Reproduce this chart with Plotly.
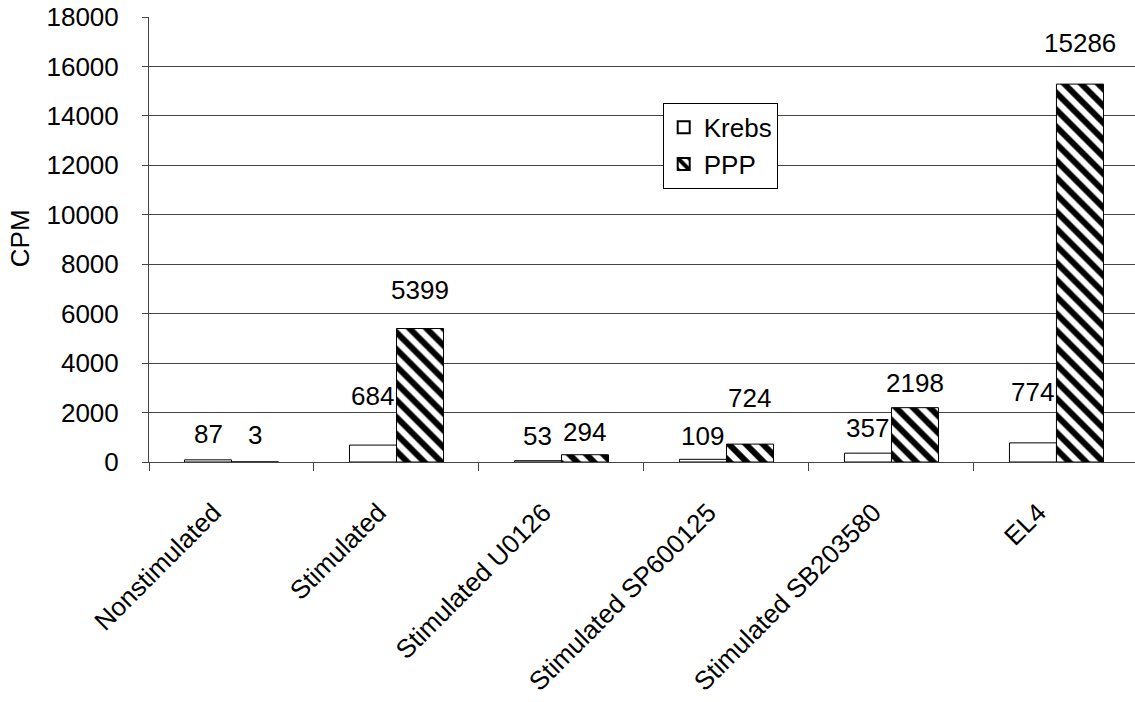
import plotly.graph_objects as go

# Categories and measured CPM values
categories = [
    "Nonstimulated",
    "Stimulated",
    "Stimulated U0126",
    "Stimulated SP600125",
    "Stimulated SB203580",
    "EL4",
]
krebs = [87, 684, 53, 109, 357, 774]
ppp = [3, 5399, 294, 724, 2198, 15286]

# Vertical offset (px) of each value label above its bar
krebs_label_lift = [26, 49, 25, 23, 25, 51]
ppp_label_lift = [27, 39, 23, 46, 25, 41]

FONT = "Liberation Sans, Arial, sans-serif"
FS = 26
BAR_PX = 47  # half-group offset for labels

fig = go.Figure()
fig.add_trace(go.Bar(
    name="Krebs", x=categories, y=krebs,
    marker=dict(color="white", line=dict(color="black", width=1)),
))
fig.add_trace(go.Bar(
    name="PPP", x=categories, y=ppp,
    marker=dict(
        color="white",
        line=dict(color="black", width=1),
        pattern=dict(shape="\\", fgcolor="#000000", bgcolor="#ffffff",
                     fgopacity=1, size=12, solidity=0.5, fillmode="replace"),
    ),
))

annotations = []
for cat, v, lift in zip(categories, krebs, krebs_label_lift):
    annotations.append(dict(x=cat, y=v, text=str(v), showarrow=False,
                            xshift=-BAR_PX / 2, yshift=lift, yanchor="middle",
                            font=dict(family=FONT, size=FS, color="black")))
for cat, v, lift in zip(categories, ppp, ppp_label_lift):
    annotations.append(dict(x=cat, y=v, text=str(v), showarrow=False,
                            xshift=BAR_PX / 2, yshift=lift, yanchor="middle",
                            font=dict(family=FONT, size=FS, color="black")))

# Axis title
annotations.append(dict(xref="paper", yref="paper", x=-0.1308, y=0.503,
                        text="CPM", textangle=-90, showarrow=False,
                        xanchor="center", yanchor="middle",
                        font=dict(family=FONT, size=FS, color="black")))

fig.update_layout(
    width=1135, height=702,
    margin=dict(l=149, r=0, t=17, b=240, autoexpand=False),
    paper_bgcolor="white", plot_bgcolor="white",
    font=dict(family=FONT, size=FS, color="black"),
    barmode="group", bargap=0.43, bargroupgap=0,
    showlegend=True,
    legend=dict(
        x=0.521, y=0.807, xanchor="left", yanchor="top",
        bgcolor="white", bordercolor="black", borderwidth=1,
        font=dict(family=FONT, size=FS, color="black"),
        itemsizing="constant",
    ),
    annotations=annotations,
)

fig.update_xaxes(
    type="category", range=[-0.5, 5.476], automargin=False,
    showline=True, linecolor="#444", linewidth=1,
    ticks="outside", tickson="boundaries", ticklen=8, tickcolor="#444",
    tickangle=-45, showgrid=False, ticklabelstandoff=24, ticklabelshift=-18,
    tickfont=dict(family=FONT, size=FS, color="black"),
)
fig.update_yaxes(
    range=[0, 18000], dtick=2000, tickformat="d", automargin=False,
    showline=True, linecolor="#444", linewidth=1,
    ticks="outside", ticklen=6, tickcolor="#444",
    showgrid=True, gridcolor="#444", gridwidth=1,
    zeroline=False, ticklabelstandoff=18,
    tickfont=dict(family=FONT, size=FS, color="black"),
)

fig.write_html("out.html")
